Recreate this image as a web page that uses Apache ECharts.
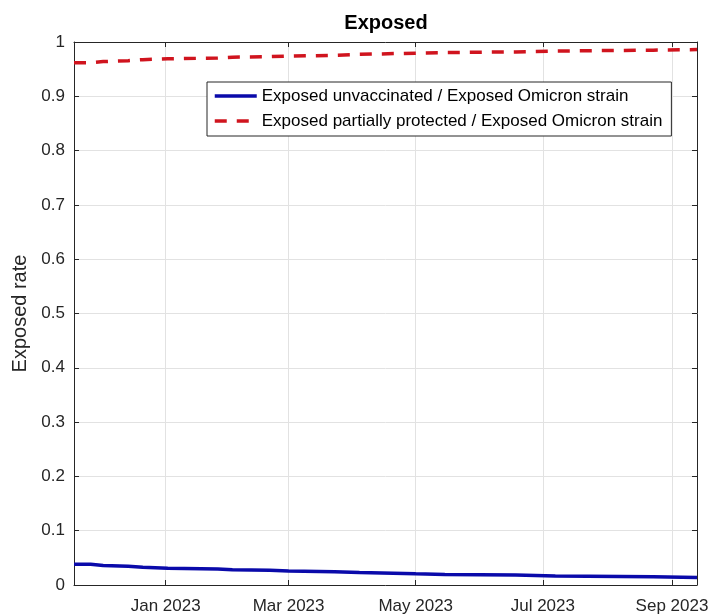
<!DOCTYPE html>
<html>
<head>
<meta charset="utf-8">
<title>Exposed</title>
<script src="https://cdn.jsdelivr.net/npm/echarts@6/dist/echarts.min.js"></script>
<style>
  html, body { margin: 0; padding: 0; background: #fff; }
  #chart { width: 711px; height: 614px; }
</style>
</head>
<body>
<div id="chart"></div>
<script>
// Dates at which the daily ratio steps to a new level (last entry closes the range)
const stepDates = [
  '2022-11-18', '2022-11-26', '2022-12-02', '2022-12-14', '2022-12-21',
  '2023-01-02', '2023-01-26', '2023-02-02', '2023-02-20', '2023-03-01',
  '2023-03-23', '2023-04-04', '2023-05-01', '2023-05-15', '2023-06-18',
  '2023-07-07', '2023-08-23', '2023-09-13'
];
const unvaccinated = [
  0.038, 0.036, 0.0345, 0.0325, 0.031,
  0.0295, 0.028, 0.027, 0.026, 0.0245,
  0.0228, 0.0205, 0.0195, 0.0182, 0.0166,
  0.015, 0.014, 0.014
];
const partiallyProtected = [
  0.962, 0.964, 0.9655, 0.9675, 0.969,
  0.9705, 0.972, 0.973, 0.974, 0.9755,
  0.9772, 0.9795, 0.9805, 0.9818, 0.9834,
  0.985, 0.986, 0.986
];
const seriesNames = [
  'Exposed unvaccinated / Exposed Omicron strain',
  'Exposed partially protected / Exposed Omicron strain'
];
const xRange = ['2022-11-18', '2023-09-13'];
const xTickDates = ['2023-01-01', '2023-03-01', '2023-05-01', '2023-07-01', '2023-09-01'];
const monthNames = ['Jan', 'Feb', 'Mar', 'Apr', 'May', 'Jun', 'Jul', 'Aug', 'Sep', 'Oct', 'Nov', 'Dec'];

// Dates are placed on a numeric axis as days since the epoch (UTC)
const DAY = 86400000;
function toDay(s) {
  const p = s.split('-').map(Number);
  return Date.UTC(p[0], p[1] - 1, p[2]) / DAY;
}

const FONT = "'Liberation Sans', Arial, sans-serif";
const INK = '#262626';
const GRID = '#e2e2e2';

const xMin = toDay(xRange[0]);
const xMax = toDay(xRange[1]);
const xTicks = xTickDates.map(toDay);

const chart = echarts.init(document.getElementById('chart'), null, { renderer: 'canvas' });

chart.setOption({
  backgroundColor: '#fff',
  animation: false,
  title: {
    text: 'Exposed',
    left: 386,
    top: 13,
    padding: 0,
    textAlign: 'center',
    textStyle: { fontFamily: FONT, fontSize: 20, fontWeight: 'bold', color: '#000' }
  },
  grid: {
    left: 74, right: 14, top: 42, bottom: 29,
    containLabel: false,
    outerBoundsMode: 'none'
  },
  legend: {
    orient: 'vertical',
    left: 207,
    top: 82,
    padding: [4, 9, 5, 6],
    itemGap: 5,
    itemWidth: 42,
    itemHeight: 20,
    backgroundColor: '#fff',
    borderColor: INK,
    borderWidth: 1,
    borderRadius: 0,
    selectedMode: false,
    data: seriesNames,
    // keys show only the line sample, no marker
    itemStyle: { opacity: 0, borderWidth: 0 },
    lineStyle: { width: 3.5 },
    textStyle: { fontFamily: FONT, fontSize: 17, color: '#000', lineHeight: 20 }
  },
  xAxis: [
    {
      type: 'value',
      min: xMin,
      max: xMax,
      axisLine: { show: true, onZero: false, lineStyle: { color: INK, width: 1 } },
      axisTick: { show: true, inside: true, length: 5, customValues: xTicks, lineStyle: { color: INK } },
      axisLabel: {
        customValues: xTicks,
        margin: 13,
        fontFamily: FONT,
        fontSize: 17,
        color: INK,
        formatter: function (v) {
          const d = new Date(v * DAY);
          return monthNames[d.getUTCMonth()] + ' ' + d.getUTCFullYear();
        }
      },
      splitLine: { show: true, lineStyle: { color: GRID, width: 1 } }
    },
    {
      type: 'value',
      position: 'top',
      min: xMin,
      max: xMax,
      axisLine: { show: true, onZero: false, lineStyle: { color: INK, width: 1 } },
      axisTick: { show: true, inside: true, length: 5, customValues: xTicks, lineStyle: { color: INK } },
      axisLabel: { show: false, customValues: xTicks },
      splitLine: { show: false }
    }
  ],
  yAxis: [
    {
      type: 'value',
      min: 0,
      max: 1,
      interval: 0.1,
      name: 'Exposed rate',
      nameLocation: 'middle',
      nameGap: 44,
      nameTextStyle: { fontFamily: FONT, fontSize: 20, color: INK },
      axisLine: { show: true, onZero: false, lineStyle: { color: INK, width: 1 } },
      axisTick: { show: true, inside: true, length: 5, lineStyle: { color: INK } },
      axisLabel: { margin: 9, fontFamily: FONT, fontSize: 17, color: INK },
      splitLine: { show: true, lineStyle: { color: GRID, width: 1 } }
    },
    {
      type: 'value',
      position: 'right',
      min: 0,
      max: 1,
      interval: 0.1,
      axisLine: { show: true, onZero: false, lineStyle: { color: INK, width: 1 } },
      axisTick: { show: true, inside: true, length: 5, lineStyle: { color: INK } },
      axisLabel: { show: false },
      splitLine: { show: false }
    }
  ],
  series: [
    {
      name: seriesNames[0],
      type: 'line',
      step: 'end',
      symbol: 'none',
      showSymbol: false,
      color: '#0a0aaa',
      lineStyle: { color: '#0a0aaa', width: 3.5, type: 'solid' },
      data: stepDates.map((d, i) => [toDay(d), unvaccinated[i]]),
      z: 3
    },
    {
      name: seriesNames[1],
      type: 'line',
      step: 'end',
      symbol: 'none',
      showSymbol: false,
      color: '#d0141e',
      lineStyle: { color: '#d0141e', width: 3.5, type: [12, 10], cap: 'butt' },
      data: stepDates.map((d, i) => [toDay(d), partiallyProtected[i]]),
      z: 3
    }
  ]
});
</script>
</body>
</html>
